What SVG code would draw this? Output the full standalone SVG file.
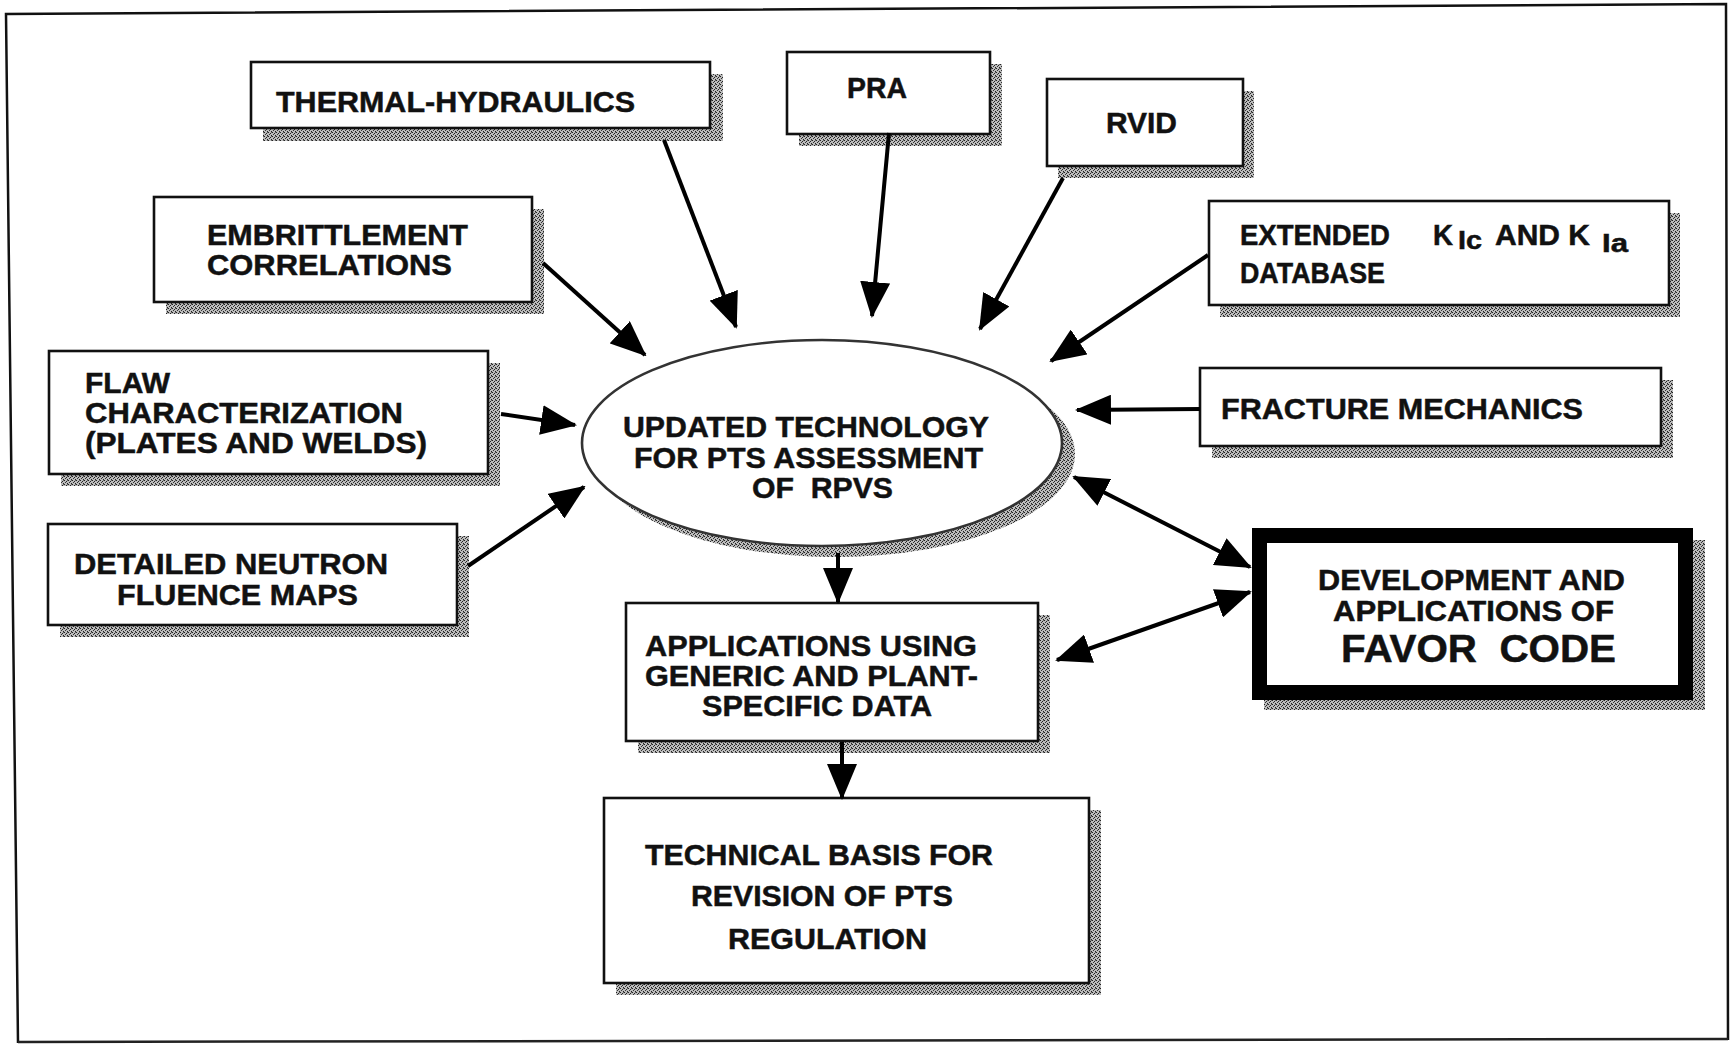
<svg xmlns="http://www.w3.org/2000/svg" width="1732" height="1045" viewBox="0 0 1732 1045">
  <defs>
    <!-- dithered grey used for the drop shadows -->
    <pattern id="dither" width="4" height="4" patternUnits="userSpaceOnUse">
      <rect width="4" height="4" fill="#bcbcbc"/>
      <rect x="0" y="0" width="1" height="1" fill="#222"/>
      <rect x="2" y="1" width="1" height="1" fill="#222"/>
      <rect x="1" y="2" width="1" height="1" fill="#333"/>
      <rect x="3" y="3" width="1" height="1" fill="#222"/>
      <rect x="3" y="0" width="1" height="1" fill="#666"/>
    </pattern>
    <marker id="head" markerUnits="userSpaceOnUse" markerWidth="36" markerHeight="30" refX="34" refY="15" orient="auto-start-reverse">
      <path d="M0,0 L36,15 L0,30 z" fill="#000"/>
    </marker>
    <style>
      .box { fill: #fff; stroke: #111; stroke-width: 2.6; }
      .shadow { fill: url(#dither); stroke: none; }
      .lbl { font-family: "Liberation Sans", Arial, sans-serif; font-weight: bold; font-size: 30px; fill: #111; stroke: #111; stroke-width: 0.5; }
      .sub { font-size: 26px; }
      .big { font-size: 39px; }
      .conn { stroke: #000; stroke-width: 4; fill: none; marker-end: url(#head); }
      .both { marker-start: url(#head); }
    </style>
  </defs>

  <rect width="1732" height="1045" fill="#fff"/>

  <!-- page frame -->
  <polyline points="18,1043 6,14 1726,4 1728,1040" fill="none" stroke="#111" stroke-width="2.5"/>
  <line x1="18" y1="1042" x2="1728" y2="1039" stroke="#222" stroke-width="2.5"/>

  <g id="thermal-hydraulics">
    <rect class="shadow" x="263" y="74" width="460" height="67"/>
    <rect class="box" x="251" y="62" width="459" height="66"/>
    <text class="lbl" x="276" y="112" textLength="359" lengthAdjust="spacingAndGlyphs">THERMAL-HYDRAULICS</text>
  </g>

  <g id="pra">
    <rect class="shadow" x="799" y="64" width="203" height="82"/>
    <rect class="box" x="787" y="52" width="203" height="82"/>
    <text class="lbl" x="847" y="98" textLength="60" lengthAdjust="spacingAndGlyphs">PRA</text>
  </g>

  <g id="rvid">
    <rect class="shadow" x="1058" y="91" width="196" height="87"/>
    <rect class="box" x="1047" y="79" width="196" height="87"/>
    <text class="lbl" x="1106" y="133" textLength="71" lengthAdjust="spacingAndGlyphs">RVID</text>
  </g>

  <g id="extended-database">
    <rect class="shadow" x="1220" y="213" width="460" height="104"/>
    <rect class="box" x="1209" y="201" width="460" height="104"/>
    <text class="lbl" x="1240" y="245" textLength="150" lengthAdjust="spacingAndGlyphs">EXTENDED</text>
    <text class="lbl" x="1433" y="245" textLength="20" lengthAdjust="spacingAndGlyphs">K</text>
    <text class="lbl sub" x="1458" y="249" textLength="24" lengthAdjust="spacingAndGlyphs">Ic</text>
    <text class="lbl" x="1495" y="245" textLength="95" lengthAdjust="spacingAndGlyphs">AND K</text>
    <text class="lbl sub" x="1602" y="252" textLength="26" lengthAdjust="spacingAndGlyphs">Ia</text>
    <text class="lbl" x="1240" y="283" textLength="145" lengthAdjust="spacingAndGlyphs">DATABASE</text>
  </g>

  <g id="embrittlement">
    <rect class="shadow" x="166" y="209" width="378" height="105"/>
    <rect class="box" x="154" y="197" width="378" height="105"/>
    <text class="lbl" x="207" y="245" textLength="261" lengthAdjust="spacingAndGlyphs">EMBRITTLEMENT</text>
    <text class="lbl" x="207" y="275" textLength="245" lengthAdjust="spacingAndGlyphs">CORRELATIONS</text>
  </g>

  <g id="flaw">
    <rect class="shadow" x="61" y="363" width="439" height="123"/>
    <rect class="box" x="49" y="351" width="439" height="123"/>
    <text class="lbl" x="85" y="393" textLength="85" lengthAdjust="spacingAndGlyphs">FLAW</text>
    <text class="lbl" x="85" y="423" textLength="318" lengthAdjust="spacingAndGlyphs">CHARACTERIZATION</text>
    <text class="lbl" x="85" y="453" textLength="342" lengthAdjust="spacingAndGlyphs">(PLATES AND WELDS)</text>
  </g>

  <g id="neutron-fluence">
    <rect class="shadow" x="60" y="536" width="409" height="101"/>
    <rect class="box" x="48" y="524" width="409" height="101"/>
    <text class="lbl" x="74" y="574" textLength="314" lengthAdjust="spacingAndGlyphs">DETAILED NEUTRON</text>
    <text class="lbl" x="117" y="605" textLength="241" lengthAdjust="spacingAndGlyphs">FLUENCE MAPS</text>
  </g>

  <g id="fracture-mechanics">
    <rect class="shadow" x="1212" y="380" width="461" height="78"/>
    <rect class="box" x="1200" y="368" width="461" height="78"/>
    <text class="lbl" x="1221" y="419" textLength="362" lengthAdjust="spacingAndGlyphs">FRACTURE MECHANICS</text>
  </g>

  <g id="updated-technology">
    <ellipse cx="835" cy="454" rx="240" ry="103" fill="url(#dither)"/>
    <ellipse cx="822" cy="443" rx="240" ry="103" fill="#fff" stroke="#333" stroke-width="2.6"/>
    <text class="lbl" x="623" y="437" textLength="366" lengthAdjust="spacingAndGlyphs">UPDATED TECHNOLOGY</text>
    <text class="lbl" x="634" y="468" textLength="349" lengthAdjust="spacingAndGlyphs">FOR PTS ASSESSMENT</text>
    <text class="lbl" x="752" y="498" textLength="141" lengthAdjust="spacingAndGlyphs">OF&#160; RPVS</text>
  </g>

  <g id="applications">
    <rect class="shadow" x="638" y="615" width="412" height="138"/>
    <rect class="box" x="626" y="603" width="412" height="138"/>
    <text class="lbl" x="645" y="656" textLength="332" lengthAdjust="spacingAndGlyphs">APPLICATIONS USING</text>
    <text class="lbl" x="645" y="686" textLength="333" lengthAdjust="spacingAndGlyphs">GENERIC AND PLANT-</text>
    <text class="lbl" x="702" y="716" textLength="230" lengthAdjust="spacingAndGlyphs">SPECIFIC DATA</text>
  </g>

  <g id="technical-basis">
    <rect class="shadow" x="616" y="810" width="485" height="185"/>
    <rect class="box" x="604" y="798" width="485" height="185"/>
    <text class="lbl" x="645" y="865" textLength="348" lengthAdjust="spacingAndGlyphs">TECHNICAL BASIS FOR</text>
    <text class="lbl" x="691" y="906" textLength="262" lengthAdjust="spacingAndGlyphs">REVISION OF PTS</text>
    <text class="lbl" x="728" y="949" textLength="199" lengthAdjust="spacingAndGlyphs">REGULATION</text>
  </g>

  <g id="favor-code">
    <rect class="shadow" x="1264" y="540" width="441" height="170"/>
    <rect x="1259.5" y="535.5" width="426" height="157" fill="#fff" stroke="#000" stroke-width="15"/>
    <text class="lbl" x="1318" y="590" textLength="307" lengthAdjust="spacingAndGlyphs">DEVELOPMENT AND</text>
    <text class="lbl" x="1333" y="621" textLength="281" lengthAdjust="spacingAndGlyphs">APPLICATIONS OF</text>
    <text class="lbl big" x="1341" y="662" textLength="275" lengthAdjust="spacingAndGlyphs">FAVOR&#160; CODE</text>
  </g>

  <g id="connectors">
    <line class="conn" x1="664" y1="140" x2="736" y2="327"/>
    <line class="conn" x1="889" y1="133" x2="872" y2="316"/>
    <line class="conn" x1="1063" y1="178" x2="980" y2="329"/>
    <line class="conn" x1="1208" y1="255" x2="1051" y2="361"/>
    <line class="conn" x1="1200" y1="409" x2="1077" y2="410"/>
    <line class="conn both" x1="1074" y1="477" x2="1250" y2="567"/>
    <line class="conn both" x1="1250" y1="592" x2="1057" y2="660"/>
    <line class="conn" x1="543" y1="263" x2="645" y2="355"/>
    <line class="conn" x1="501" y1="414" x2="575" y2="425"/>
    <line class="conn" x1="468" y1="566" x2="584" y2="487"/>
    <line class="conn" x1="838" y1="553" x2="838" y2="602"/>
    <line class="conn" x1="842" y1="742" x2="842" y2="798"/>
  </g>
</svg>
